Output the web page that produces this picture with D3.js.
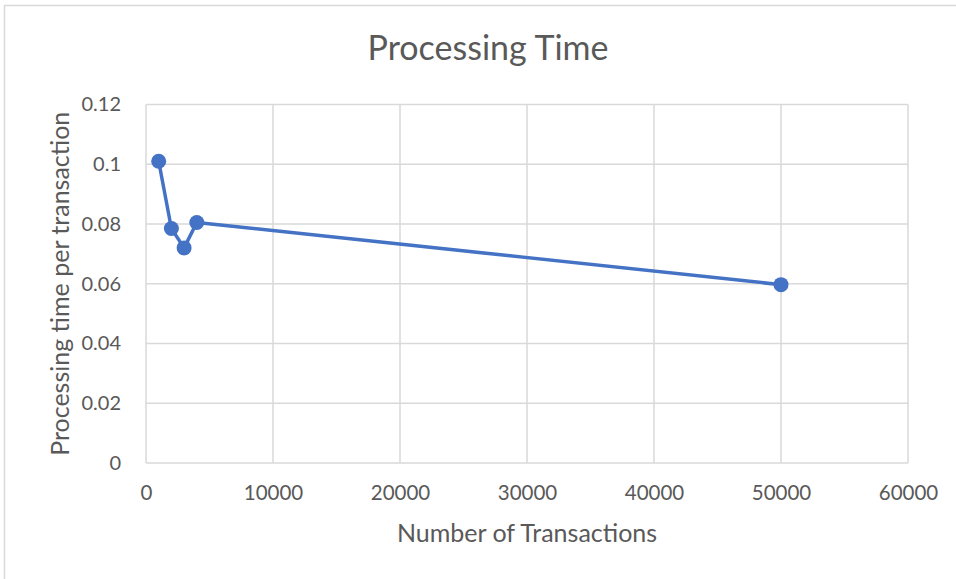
<!DOCTYPE html>
<html>
<head>
<meta charset="utf-8">
<script src="https://cdn.jsdelivr.net/npm/d3@7"></script>
<style>
  html, body { margin: 0; padding: 0; background: #fff; }
  svg { display: block; }
  text { font-family: Lato, "Open Sans", sans-serif; fill: #595959; }
</style>
</head>
<body>
<svg id="chart" width="956" height="579"></svg>
<script>
// Number of transactions processed and processing time per transaction
const transactions = [1000, 2000, 3000, 4000, 50000];
const timePerTransaction = [0.101, 0.0785, 0.072, 0.0805, 0.0597];
const xTicks = [0, 10000, 20000, 30000, 40000, 50000, 60000];
const yTicks = [0, 0.02, 0.04, 0.06, 0.08, 0.1, 0.12];
const yTickLabels = ["0", "0.02", "0.04", "0.06", "0.08", "0.1", "0.12"];

const W = 956, H = 579;
const margin = { left: 146, right: 48, top: 104.5, bottom: 116 };
const plotW = W - margin.left - margin.right;
const plotH = H - margin.top - margin.bottom;

const svg = d3.select("#chart");

// Chart frame
svg.append("rect")
  .attr("x", 4.5).attr("y", 5.5)
  .attr("width", W + 10).attr("height", H + 10)
  .attr("fill", "#fff").attr("stroke", "#d9d9d9").attr("stroke-width", 1.5);

const x = d3.scaleLinear().domain([0, 60000]).range([margin.left, margin.left + plotW]);
const y = d3.scaleLinear().domain([0, 0.12]).range([margin.top + plotH, margin.top]);

// Gridlines
const grid = svg.append("g").attr("stroke", "#d9d9d9").attr("stroke-width", 1.5);
grid.selectAll("line.h").data(yTicks).join("line").attr("class", "h")
  .attr("x1", x(0)).attr("x2", x(60000))
  .attr("y1", d => y(d)).attr("y2", d => y(d));
grid.selectAll("line.v").data(xTicks).join("line").attr("class", "v")
  .attr("y1", y(0)).attr("y2", y(0.12))
  .attr("x1", d => x(d)).attr("x2", d => x(d));

// Y axis labels
const yAxis = svg.append("g")
  .attr("transform", `translate(${x(0) - 22},0)`)
  .call(d3.axisLeft(y).tickValues(yTicks).tickFormat((d, i) => yTickLabels[i]).tickSize(0));
yAxis.select(".domain").remove();
yAxis.selectAll("text").attr("font-size", 20).attr("fill", "#595959")
  .style("font-family", 'Lato, sans-serif');

// X axis labels
const xAxis = svg.append("g")
  .attr("transform", `translate(0,${y(0) + 19})`)
  .call(d3.axisBottom(x).tickValues(xTicks).tickFormat(d3.format("d")).tickSize(0));
xAxis.select(".domain").remove();
xAxis.selectAll("text").attr("font-size", 20.5).attr("fill", "#595959")
  .style("font-family", 'Lato, sans-serif');

// Title
svg.append("text")
  .attr("x", 488).attr("y", 60)
  .attr("text-anchor", "middle")
  .attr("font-size", 34)
  .text("Processing Time");

// Axis titles
svg.append("text")
  .attr("x", x(30000)).attr("y", 542)
  .attr("text-anchor", "middle")
  .attr("font-size", 25)
  .text("Number of Transactions");

svg.append("text")
  .attr("transform", `translate(69,${y(0.06)}) rotate(-90)`)
  .attr("text-anchor", "middle")
  .attr("font-size", 25)
  .text("Processing time per transaction");

// Series
const pts = transactions.map((t, i) => [t, timePerTransaction[i]]);
svg.append("path")
  .datum(pts)
  .attr("fill", "none")
  .attr("stroke", "#4472c4")
  .attr("stroke-width", 3.5)
  .attr("stroke-linejoin", "round")
  .attr("d", d3.line().x(d => x(d[0])).y(d => y(d[1])));

svg.selectAll("circle.pt").data(pts).join("circle").attr("class", "pt")
  .attr("cx", d => x(d[0])).attr("cy", d => y(d[1]))
  .attr("r", 7.5)
  .attr("fill", "#4472c4");
</script>
</body>
</html>
